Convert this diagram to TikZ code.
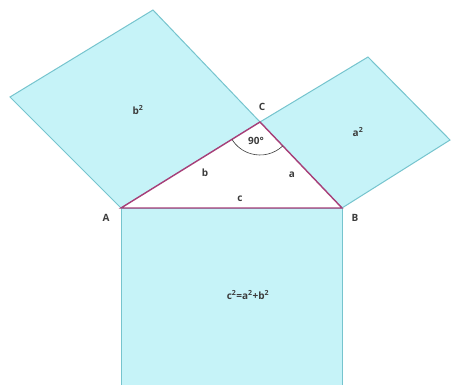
\documentclass[tikz,border=0pt]{standalone}
\usepackage{fontspec}
\setmainfont{Open Sans}
\begin{document}
\begin{tikzpicture}[x=1pt,y=-1pt,
  sq/.style={fill=sqfill,draw=sqedge,line width=1pt,line join=miter},
  lbl/.style={text=lbltext,font=\fontsize{10}{11}\selectfont\bfseries,inner sep=1pt}]
\definecolor{sqfill}{RGB}{198,243,248}
\definecolor{sqedge}{RGB}{118,196,206}
\definecolor{triedge}{RGB}{168,62,120}
\definecolor{lbltext}{RGB}{60,60,60}
\useasboundingbox (0,0) rectangle (452,385);
\fill[white] (0,0) rectangle (452,385);
% vertices
\coordinate (A) at (121,208);
\coordinate (B) at (342,208);
\coordinate (C) at (260,122);
% square on b
\coordinate (Bt) at (153,10);
\coordinate (Bl) at (10,97);
% square on a
\coordinate (At) at (368,57);
\coordinate (Ar) at (450,140);
% square on c
\coordinate (Cbl) at (121,392);
\coordinate (Cbr) at (342,392);
\draw[sq] (A) -- (C) -- (Bt) -- (Bl) -- cycle;
\draw[sq] (C) -- (B) -- (Ar) -- (At) -- cycle;
\draw[sq] (A) -- (B) -- (Cbr) -- (Cbl) -- cycle;
\draw[triedge,fill=white,line width=1.4pt,line join=miter] (A) -- (B) -- (C) -- cycle;
\draw[lbltext,line width=0.6pt] ([shift={(46.4:33)}]C) arc[start angle=46.4,end angle=148.3,radius=33];
\node[lbl] (lC) at (262,107) {C};
\node[lbl] (lA) at (106,218) {A};
\node[lbl] (lB) at (355,218) {B};
\node[lbl] (l90) at (256,141) {90°};
\node[lbl] (lb) at (205,173) {b};
\node[lbl] (la) at (292,175) {a};
\node[lbl] (lc) at (240,199) {c};
\node[lbl] (lb2) at (138,110) {b\textsuperscript{2}};
\node[lbl] (la2) at (358,132) {a\textsuperscript{2}};
\node[lbl] (lc2) at (248,295) {c\textsuperscript{2}=a\textsuperscript{2}+b\textsuperscript{2}};
\end{tikzpicture}
\end{document}
